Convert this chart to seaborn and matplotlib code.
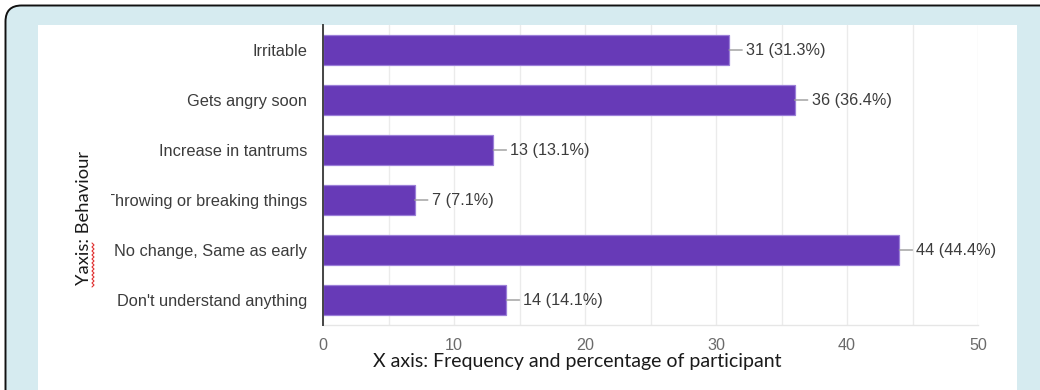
import numpy as np
import pandas as pd
import matplotlib
matplotlib.use("Agg")
import matplotlib.pyplot as plt
import seaborn as sns
from matplotlib.patches import FancyBboxPatch, Rectangle
from matplotlib.transforms import IdentityTransform, Bbox
from matplotlib.ticker import MultipleLocator

# Survey responses: behaviour categories, counts and share of participants
behaviours = [
    "Irritable",
    "Gets angry soon",
    "Increase in tantrums",
    "Throwing or breaking things",
    "No change, Same as early",
    "Don't understand anything",
]
counts = [31, 36, 13, 7, 44, 14]
percents = [31.3, 36.4, 13.1, 7.1, 44.4, 14.1]
x_ticks = [0, 10, 20, 30, 40, 50]

df = pd.DataFrame({"behaviour": behaviours, "count": counts, "pct": percents})

W, H = 1040, 390
sns.set_theme(style="white")
plt.rcParams["font.family"] = ["Liberation Sans", "DejaVu Sans"]

fig = plt.figure(figsize=(W / 100, H / 100), dpi=100)
fig.patch.set_facecolor("white")
px = IdentityTransform()

# Light blue card with a rounded black frame, and the white chart panel on it
card = FancyBboxPatch((5.5, -60), 1200, H - 5.5 + 60,
                      boxstyle="round,pad=0,rounding_size=16",
                      transform=px, facecolor="#d6ebf0", edgecolor="#111111",
                      linewidth=1.4, zorder=-20)
fig.add_artist(card)
panel = Rectangle((38, 0), 1017 - 38, H - 25, transform=px,
                  facecolor="white", edgecolor="none", zorder=-19)
fig.add_artist(panel)

ax = fig.add_axes([323 / W, 65 / H, 655 / W, 300 / H])
ax.set_facecolor("white")

sns.barplot(data=df, x="count", y="behaviour", orient="h", ax=ax,
            color="#673ab7", saturation=1, width=0.6,
            edgecolor="#9b7fd8", linewidth=0.9, zorder=3)

ax.set_xlim(0, 50)
ax.set_ylim(len(behaviours) - 0.5, -0.5)
ax.set_xticks(x_ticks)
ax.xaxis.set_minor_locator(MultipleLocator(5))
ax.grid(True, axis="x", which="both", color="#ebebeb", linewidth=1, zorder=0)
ax.grid(False, axis="y")

for side in ["top", "right"]:
    ax.spines[side].set_visible(False)
ax.spines["left"].set_color("#444444")
ax.spines["left"].set_linewidth(1.4)
ax.spines["left"].set_zorder(5)
ax.spines["bottom"].set_color("#e6e6e6")
ax.spines["bottom"].set_linewidth(1)

ax.tick_params(axis="both", which="both", length=0)
ax.tick_params(axis="y", pad=11.5, labelsize=11.8, labelcolor="#3c3c3c")
ax.tick_params(axis="x", pad=9.5, labelsize=11.6, labelcolor="#6a6a6a")
ax.set_xlabel("")
ax.set_ylabel("")

# Long category names run past the left edge of the panel and get cut off
clip = Bbox.from_extents(111, 0, W, H)
for lbl in ax.get_yticklabels():
    lbl.set_clip_on(True)
    lbl.set_clip_box(clip)

# Value labels joined to bar ends by short leader lines
for i, (c, p) in enumerate(zip(counts, percents)):
    ax.annotate(f"{c} ({p}%)", xy=(c, i), xytext=(12.3, 0),
                textcoords="offset points", ha="left", va="center",
                fontsize=11.7, color="#3c3c3c",
                arrowprops=dict(arrowstyle="-", color="#9a9a9a", lw=1,
                                shrinkA=0.5, shrinkB=0),
                zorder=6)

# Axis titles
fig.text(577 / W, 1 - 362 / H, "X axis: Frequency and percentage of participant",
         ha="center", va="center", fontsize=14, color="#1a1a1a",
         family=["Lato", "DejaVu Sans"])
fig.text(84 / W, 1 - 218 / H, "Yaxis: Behaviour", rotation=90,
         ha="center", va="center", fontsize=13.2, color="#1a1a1a",
         family=["Lato", "DejaVu Sans"])

# Red wavy underline beside the word "Yaxis"
ys = np.arange(243, 289, 2.0)
xs = 93 + np.where(np.arange(len(ys)) % 2 == 0, -1.0, 1.0)
fig.add_artist(plt.Line2D(xs, H - ys, transform=px, color="#e03030",
                          linewidth=0.8))

fig.savefig("out.png", dpi=100, facecolor=fig.get_facecolor())
